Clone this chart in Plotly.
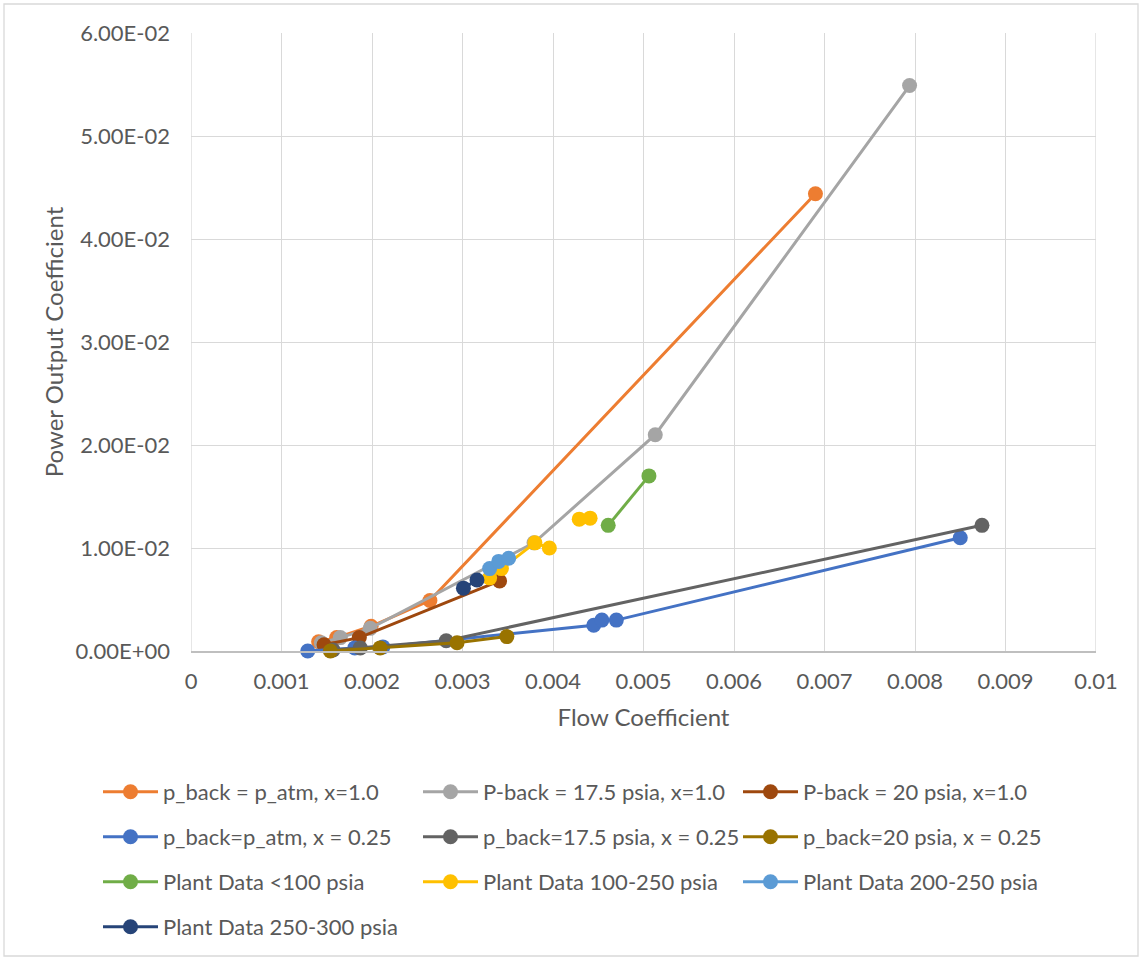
import plotly.graph_objects as go

# Flow coefficient (x) and power output coefficient (y) for each series
names = [
    "p_back = p_atm, x=1.0",
    "P-back = 17.5 psia, x=1.0",
    "P-back = 20 psia, x=1.0",
    "p_back=p_atm, x = 0.25",
    "p_back=17.5 psia, x = 0.25",
    "p_back=20 psia, x = 0.25",
    "Plant Data <100 psia",
    "Plant Data 100-250 psia",
    "Plant Data 200-250 psia",
    "Plant Data 250-300 psia",
]

patm_x10 = [0.00141, 0.00161, 0.00199, 0.00264, 0.00690]
patm_y10 = [0.0009, 0.0013, 0.0024, 0.0049, 0.0444]

p175_x10 = [0.00144, 0.00165, 0.00198, 0.00379, 0.00513, 0.00794]
p175_y10 = [0.0008, 0.0013, 0.0022, 0.0105, 0.0210, 0.0549]

p20_x10 = [0.00147, 0.00186, 0.00341]
p20_y10 = [0.0006, 0.0013, 0.0068]

patm_x025 = [0.00129, 0.00181, 0.00212, 0.00445, 0.00454, 0.00470, 0.00850]
patm_y025 = [0.0000, 0.0003, 0.0004, 0.0025, 0.0030, 0.0030, 0.0110]

p175_x025 = [0.00157, 0.00187, 0.00282, 0.00874]
p175_y025 = [0.0001, 0.0003, 0.0010, 0.0122]

p20_x025 = [0.00154, 0.00209, 0.00294, 0.00349]
p20_y025 = [0.0000, 0.0003, 0.0008, 0.0014]

plant_lt100_x = [0.00461, 0.00506]
plant_lt100_y = [0.0122, 0.0170]

plant_100_250_x = [0.00330, 0.00343, 0.00380, 0.00396, None, 0.00429, 0.00441]
plant_100_250_y = [0.0071, 0.0080, 0.0105, 0.0100, None, 0.0128, 0.0129]

plant_200_250_x = [0.00330, 0.00340, 0.00351]
plant_200_250_y = [0.0080, 0.0087, 0.0090]

plant_250_300_x = [0.00301, 0.00316]
plant_250_300_y = [0.0061, 0.0069]

series_x = [patm_x10, p175_x10, p20_x10, patm_x025, p175_x025, p20_x025,
            plant_lt100_x, plant_100_250_x, plant_200_250_x, plant_250_300_x]
series_y = [patm_y10, p175_y10, p20_y10, patm_y025, p175_y025, p20_y025,
            plant_lt100_y, plant_100_250_y, plant_200_250_y, plant_250_300_y]

colors = ["#ED7D31", "#A5A5A5", "#9E480E", "#4472C4", "#636363",
          "#997300", "#70AD47", "#FFC000", "#5B9BD5", "#264478"]

x_ticks = [0, 0.001, 0.002, 0.003, 0.004, 0.005, 0.006, 0.007, 0.008, 0.009, 0.01]
x_tick_labels = ["0", "0.001", "0.002", "0.003", "0.004", "0.005",
                 "0.006", "0.007", "0.008", "0.009", "0.01"]
y_ticks = [0, 0.01, 0.02, 0.03, 0.04, 0.05, 0.06]
y_tick_labels = ["0.00E+00", "1.00E-02", "2.00E-02", "3.00E-02",
                 "4.00E-02", "5.00E-02", "6.00E-02"]

FONT = "Lato"
TEXT = "#595959"
GRID = "#D9D9D9"

W, H = 1142, 959
ML, MR, MT, MB = 191, 46, 33, 308
PW, PH = W - ML - MR, H - MT - MB

# one legend per row, three entries per row
legend_ids = ["legend", "legend", "legend",
              "legend2", "legend2", "legend2",
              "legend3", "legend3", "legend3",
              "legend4"]
row_centers_px = [792, 837, 882, 927]

fig = go.Figure()
for name, xs, ys, c, lg in zip(names, series_x, series_y, colors, legend_ids):
    fig.add_trace(go.Scatter(
        x=xs, y=ys, name=name, mode="lines+markers",
        line=dict(color=c, width=3),
        marker=dict(color=c, size=15, line=dict(width=0)),
        cliponaxis=False, legend=lg, connectgaps=False,
    ))


def legend_cfg(py):
    return dict(
        orientation="h",
        x=(98 - ML) / PW, xanchor="left",
        y=(MT + PH - py) / PH, yanchor="middle",
        entrywidth=250, entrywidthmode="pixels",
        itemwidth=55,
        font=dict(family=FONT, size=22, color=TEXT),
        bgcolor="rgba(0,0,0,0)",
        traceorder="normal",
    )


fig.update_layout(
    width=W, height=H,
    margin=dict(l=ML, r=MR, t=MT, b=MB, autoexpand=False),
    paper_bgcolor="white", plot_bgcolor="white",
    font=dict(family=FONT, color=TEXT),
    showlegend=True,
    legend=legend_cfg(row_centers_px[0]),
    legend2=legend_cfg(row_centers_px[1]),
    legend3=legend_cfg(row_centers_px[2]),
    legend4=legend_cfg(row_centers_px[3]),
    xaxis=dict(
        range=[0, 0.01], tickvals=x_ticks, ticktext=x_tick_labels,
        showgrid=True, gridcolor=GRID, gridwidth=1.3,
        zeroline=False, showline=True, linecolor="#BFBFBF", linewidth=1.5,
        ticks="", ticklabelstandoff=10,
        tickfont=dict(family=FONT, size=22, color=TEXT),
        title=dict(text="Flow Coefficient", standoff=16,
                   font=dict(family=FONT, size=24, color=TEXT)),
    ),
    yaxis=dict(
        range=[0, 0.06], tickvals=y_ticks, ticktext=y_tick_labels,
        showgrid=True, gridcolor=GRID, gridwidth=1.3,
        zeroline=False, showline=False,
        ticks="", ticklabelstandoff=20,
        tickfont=dict(family=FONT, size=22, color=TEXT),
        title=dict(text="Power Output Coefficient", standoff=5,
                   font=dict(family=FONT, size=24, color=TEXT)),
    ),
    shapes=[
        # vertical grid lines at the plot edges
        dict(type="line", xref="x", yref="paper", x0=0, x1=0, y0=0, y1=1,
             line=dict(color=GRID, width=1.3), layer="below"),
        dict(type="line", xref="x", yref="paper", x0=0.01, x1=0.01, y0=0, y1=1,
             line=dict(color=GRID, width=1.3), layer="below"),
        # chart area border
        dict(type="rect", xref="paper", yref="paper",
             x0=(4 - ML) / PW, x1=(1138 - ML) / PW,
             y0=(MT + PH - 956) / PH, y1=(MT + PH - 4) / PH,
             line=dict(color=GRID, width=1.3), fillcolor="rgba(0,0,0,0)",
             layer="below"),
    ],
)

fig.write_html("out.html")
